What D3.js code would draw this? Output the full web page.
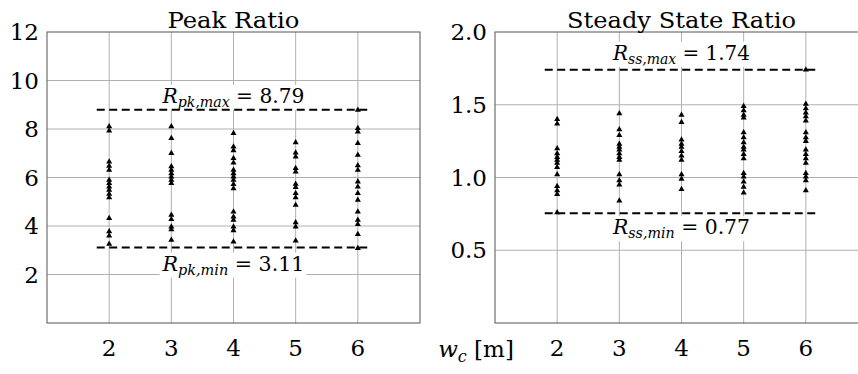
<!DOCTYPE html>
<html>
<head>
<meta charset="utf-8">
<script src="https://cdn.jsdelivr.net/npm/d3@7"></script>
<style>
  html, body { margin: 0; padding: 0; background: #fff; }
  svg { display: block; }
</style>
</head>
<body>
<svg id="chart" width="858" height="374" font-family="DejaVu Serif"></svg>
<script>
// ---------------- data ----------------
const widthCategories = [2, 3, 4, 5, 6];
const xTickLabels = ["2", "3", "4", "5", "6"];
const peakTicks = [2, 4, 6, 8, 10, 12];
const ssTicks = [0.5, 1.0, 1.5, 2.0];

// Peak ratio values per channel width w_c
const peakW2 = [8.10, 7.93, 6.65, 6.47, 6.31, 5.90, 5.76, 5.62, 5.48, 5.32, 5.18, 4.32, 3.77, 3.60, 3.26];
const peakW3 = [8.10, 7.62, 7.00, 6.45, 6.31, 6.17, 6.03, 5.90, 5.76, 4.45, 4.28, 3.97, 3.86, 3.42];
const peakW4 = [7.82, 7.27, 7.11, 6.79, 6.61, 6.31, 6.17, 6.03, 5.90, 5.72, 5.55, 4.59, 4.38, 4.25, 3.97, 3.81, 3.35];
const peakW5 = [7.44, 7.02, 6.86, 6.38, 6.24, 5.73, 5.60, 5.35, 5.18, 4.87, 4.14, 3.97, 3.39];
const peakW6 = [8.78, 8.03, 7.89, 7.41, 6.93, 6.49, 6.31, 5.83, 5.62, 5.35, 5.07, 4.59, 4.25, 4.07, 3.66, 3.08];

// Steady state ratio values per channel width w_c
const ssW2 = [1.40, 1.37, 1.20, 1.165, 1.14, 1.12, 1.10, 1.07, 1.02, 0.94, 0.91, 0.885, 0.76];
const ssW3 = [1.44, 1.33, 1.29, 1.23, 1.21, 1.19, 1.165, 1.14, 1.12, 1.02, 0.98, 0.95, 0.84];
const ssW4 = [1.43, 1.38, 1.26, 1.23, 1.21, 1.18, 1.15, 1.12, 1.02, 0.99, 0.92];
const ssW5 = [1.49, 1.46, 1.43, 1.41, 1.31, 1.275, 1.24, 1.21, 1.19, 1.16, 1.13, 1.03, 1.005, 0.97, 0.935, 0.895];
const ssW6 = [1.74, 1.505, 1.475, 1.445, 1.42, 1.39, 1.31, 1.275, 1.25, 1.19, 1.16, 1.13, 1.10, 1.03, 1.005, 0.98, 0.91];

// bound lines and their labels
const peakBoundValues = [8.79, 3.11];
const peakBoundNames = ["pk,max", "pk,min"];
const peakBoundTexts = ["8.79", "3.11"];
const ssBoundValues = [1.74, 0.755];
const ssBoundNames = ["ss,max", "ss,min"];
const ssBoundTexts = ["1.74", "0.77"];
const boundExtent = [1.8, 6.2];

const titles = ["Peak Ratio", "Steady State Ratio"];

// ---------------- drawing ----------------
const svg = d3.select("#chart");
const panelTop = 32, panelBottom = 323, panelWidth = 373;
const panels = [
  { left: 47, domain: [0, 12], ticks: peakTicks, fmt: d3.format("d"),
    series: [peakW2, peakW3, peakW4, peakW5, peakW6],
    bounds: peakBoundValues, names: peakBoundNames, texts: peakBoundTexts,
    title: titles[0], titleLen: 132, labelLen: 142, labelOff: [-7, 23] },
  { left: 495, domain: [0, 2], ticks: ssTicks, fmt: d3.format(".1f"),
    series: [ssW2, ssW3, ssW4, ssW5, ssW6],
    bounds: ssBoundValues, names: ssBoundNames, texts: ssBoundTexts,
    title: titles[1], titleLen: 229, labelLen: 137, labelOff: [-10, 21] }
];

const tri = d3.symbol().type(d3.symbolTriangle).size(16);
const gridColor = "#b0b0b0";

panels.forEach((p) => {
  const x = d3.scaleLinear().domain([1, 7]).range([p.left, p.left + panelWidth]);
  const y = d3.scaleLinear().domain(p.domain).range([panelBottom, panelTop]);
  const g = svg.append("g");

  // grid
  g.append("g").selectAll("line").data(widthCategories).join("line")
    .attr("x1", d => x(d)).attr("x2", d => x(d))
    .attr("y1", panelTop).attr("y2", panelBottom)
    .attr("stroke", gridColor).attr("stroke-width", 1);
  g.append("g").selectAll("line").data(p.ticks.filter(t => t < p.domain[1])).join("line")
    .attr("x1", p.left).attr("x2", p.left + panelWidth)
    .attr("y1", d => y(d)).attr("y2", d => y(d))
    .attr("stroke", gridColor).attr("stroke-width", 1);

  // frame
  g.append("rect")
    .attr("x", p.left).attr("y", panelTop)
    .attr("width", panelWidth).attr("height", panelBottom - panelTop)
    .attr("fill", "none").attr("stroke", "#555").attr("stroke-width", 1);

  // y tick labels
  g.append("g").selectAll("text").data(p.ticks).join("text")
    .attr("x", p.left - 8).attr("y", d => y(d) + 8)
    .attr("text-anchor", "end")
    .attr("font-size", 23)
    .text(d => p.fmt(d));

  // x tick labels
  g.append("g").selectAll("text").data(widthCategories).join("text")
    .attr("x", d => x(d)).attr("y", 356)
    .attr("text-anchor", "middle")
    .attr("font-size", 23)
    .text((d, i) => xTickLabels[i]);

  // title
  g.append("text")
    .attr("x", x(4)).attr("y", 28)
    .attr("text-anchor", "middle").attr("font-size", 23)
    .attr("textLength", p.titleLen).attr("lengthAdjust", "spacingAndGlyphs")
    .text(p.title);

  // bound labels with white boxes that hide the grid
  p.bounds.forEach((b, bi) => {
    const baseline = y(b) + p.labelOff[bi];
    const lg = g.append("g");
    const t = lg.append("text")
      .attr("x", x(4)).attr("y", baseline)
      .attr("text-anchor", "middle").attr("font-size", 20)
      .attr("textLength", p.labelLen).attr("lengthAdjust", "spacingAndGlyphs");
    t.append("tspan").attr("font-style", "italic").text("R");
    t.append("tspan").attr("font-style", "italic").attr("font-size", 14)
      .attr("dy", 4).text(p.names[bi]);
    t.append("tspan").attr("dy", -4).text(" = " + p.texts[bi]);
    const bb = t.node().getBBox();
    lg.insert("rect", "text")
      .attr("x", bb.x - 2).attr("y", baseline - 18)
      .attr("width", bb.width + 4).attr("height", 25)
      .attr("fill", "#fff");
  });

  // bound lines
  g.append("g").selectAll("line").data(p.bounds).join("line")
    .attr("x1", x(boundExtent[0])).attr("x2", x(boundExtent[1]))
    .attr("y1", d => y(d)).attr("y2", d => y(d))
    .attr("stroke", "#000").attr("stroke-width", 2)
    .attr("stroke-dasharray", "8,4.5");

  // markers
  p.series.forEach((vals, ci) => {
    g.append("g").selectAll("path").data(vals).join("path")
      .attr("d", tri)
      .attr("transform", d => `translate(${x(widthCategories[ci])},${y(d)})`)
      .attr("fill", "#000");
  });
});

// shared x label
const xl = svg.append("text")
  .attr("x", 476).attr("y", 357)
  .attr("text-anchor", "middle").attr("font-size", 23);
xl.append("tspan").attr("font-style", "italic").text("w");
xl.append("tspan").attr("font-style", "italic").attr("font-size", 16).attr("dy", 5).text("c");
xl.append("tspan").attr("dy", -5).text(" [m]");
</script>
</body>
</html>
